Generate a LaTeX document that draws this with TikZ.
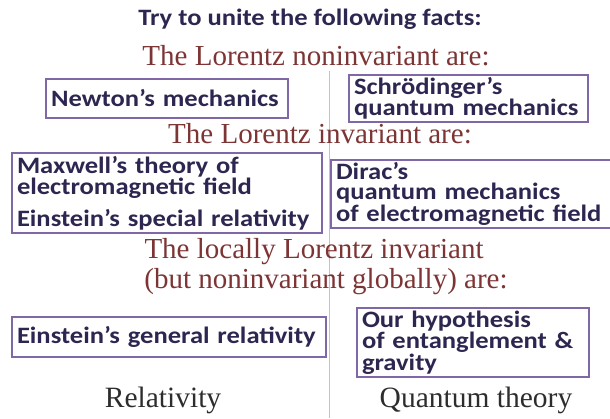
\documentclass[tikz,border=0pt]{standalone}
\usepackage{fontspec}
\setmainfont{Liberation Serif}
\newfontfamily\boxfont[FakeStretch=1.13]{Carlito}
\usetikzlibrary{positioning}
\definecolor{slate}{RGB}{46,38,80}
\definecolor{rust}{RGB}{125,52,52}
\definecolor{lilac}{RGB}{128,104,168}
\definecolor{haze}{RGB}{180,198,222}
\definecolor{ink}{RGB}{45,45,45}
\tikzset{
  fact/.style={draw=lilac,line width=1.4pt,text=slate,align=left,inner xsep=5pt,inner ysep=1pt,
    font=\boxfont\bfseries\fontsize{23.5}{20}\selectfont},
  head/.style={text=rust,anchor=base,font=\fontsize{29}{32}\selectfont},
  side/.style={text=ink,anchor=base,font=\fontsize{29.5}{32}\selectfont},
}
\begin{document}
\begin{tikzpicture}[x=1pt,y=-1pt]
  \useasboundingbox (0,0) rectangle (610,418);
  \coordinate (top) at (329,71);
  \coordinate (bot) at (329,418);
  \draw[haze,line width=0.9pt] (top) -- (bot);
  \node[anchor=base,text=slate,font=\boxfont\bfseries\fontsize{23.5}{26}\selectfont] (title) at (310,25) {Try to unite the following facts:};
  \foreach \txt/\x/\y [count=\i] in {
      The Lorentz noninvariant are:/316/65,
      The Lorentz invariant are:/320/143,
      The locally Lorentz invariant/314/258,
      (but noninvariant globally) are:/326/288}
    \node[head] (h\i) at (\x,\y) {\txt};
  % left column
  \node[fact,minimum width=242pt,minimum height=39pt,text width=232pt] (newton) at (167,98.5) {Newton’s mechanics};
  \node[fact,minimum width=310pt,minimum height=80pt,text width=300pt] (maxwell) at (167,193)
    {Maxwell’s theory of\\electromagnetic field\\[10pt]Einstein’s special relativity};
  \node[fact,minimum width=314pt,minimum height=40pt,text width=304pt] (general) at (169,337) {Einstein’s general relativity};
  % right column
  \node[fact,minimum width=239pt,minimum height=47pt,text width=229pt] (schroe) at (468.5,98.5)
    {Schrödinger’s\\quantum mechanics};
  \node[fact,minimum width=281pt,minimum height=68pt,text width=271pt] (dirac) at (471.5,194)
    {Dirac’s\\quantum mechanics\\of electromagnetic field};
  \node[fact,minimum width=232pt,minimum height=69pt,text width=222pt] (ours) at (473,342.5)
    {Our hypothesis\\of entanglement \&\\gravity};
  \node[side] (rel) at (163,407) {Relativity};
  \node[side] (qt) at (476,407) {Quantum theory};
\end{tikzpicture}
\end{document}
